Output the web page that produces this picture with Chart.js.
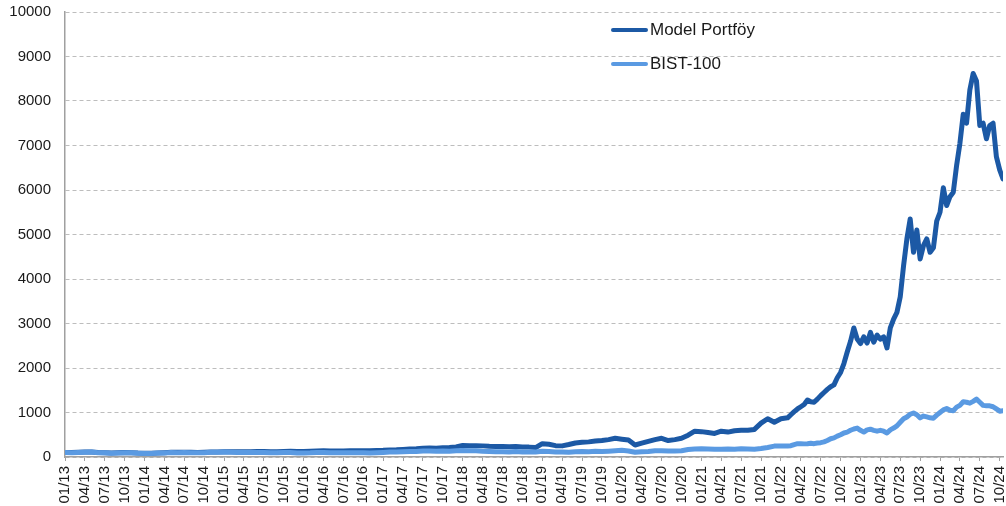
<!DOCTYPE html>
<html>
<head>
<meta charset="utf-8">
<script src="https://cdn.jsdelivr.net/npm/chart.js@4/dist/chart.umd.min.js"></script>
<style>
  body { margin: 0; background: #fff; }
  #wrap { position: relative; width: 1006px; height: 506px; }
  #legend { position: absolute; left: 611px; top: 18px; font-family: "Liberation Sans", Arial, sans-serif; font-size: 17px; color: #1a1a1a; }
  .item { display: flex; align-items: center; height: 24px; margin-bottom: 10px; }
  .swatch { width: 37px; height: 4px; border-radius: 2px; margin-right: 2px; }
</style>
</head>
<body>
<div id="wrap">
  <canvas id="chart" width="1006" height="506"></canvas>
  <div id="legend"></div>
</div>
<script>
// months since 01/2013 (monthly to 12/2021, half-monthly after)
const monthIdx = [];
for (let m = 0; m < 108; m++) monthIdx.push(m);
for (let m = 108; m <= 141.5; m += 0.5) monthIdx.push(m);

const modelPortfoy = [
  // 2013
  100, 100, 104, 110, 112, 100, 98, 90, 96, 100, 98, 90,
  // 2014
  86, 86, 92, 98, 104, 104, 106, 104, 102, 106, 112, 114,
  // 2015
  120, 118, 116, 120, 120, 122, 124, 118, 118, 126, 128, 122,
  // 2016
  124, 128, 134, 138, 134, 136, 134, 138, 140, 142, 138, 145,
  // 2017
  150, 160, 162, 170, 180, 186, 196, 200, 196, 206, 212, 225,
  // 2018
  260, 255, 255, 250, 240, 235, 238, 228, 235, 225, 222, 212,
  // 2019
  300, 285, 255, 250, 280, 315, 330, 340, 360, 370, 390, 420,
  // 2020
  400, 380, 270, 310, 350, 390, 420, 370, 390, 420, 490, 580,
  // 2021
  570, 550, 530, 580, 560, 590, 600, 600, 620, 760, 860, 780,
  // 2022 (half-monthly)
  860, 870, 880, 950, 1020, 1080, 1130, 1180, 1280, 1240, 1230, 1300,
  1380, 1450, 1520, 1580, 1620, 1780, 1900, 2100, 2360, 2600, 2900, 2650,
  // 2023
  2550, 2700, 2560, 2800, 2580, 2740, 2650, 2700, 2450, 2900, 3100, 3250,
  3600, 4300, 4900, 5350, 4600, 5100, 4450, 4750, 4900, 4600, 4700, 5300,
  // 2024
  5500, 6050, 5650, 5850, 5950, 6550, 7050, 7700, 7500, 8250, 8620, 8450,
  7450, 7500, 7150, 7450, 7500, 6750, 6450, 6250
];

const bist100 = [
  // 2013
  100, 98, 102, 108, 110, 96, 94, 85, 92, 95, 93, 85,
  // 2014
  80, 80, 88, 92, 99, 98, 100, 97, 93, 98, 105, 105,
  // 2015
  110, 104, 100, 103, 101, 101, 101, 93, 93, 101, 100, 90,
  // 2016
  90, 93, 100, 102, 95, 95, 93, 95, 95, 96, 92, 98,
  // 2017
  103, 110, 110, 116, 122, 124, 133, 135, 127, 135, 131, 138,
  // 2018
  145, 140, 138, 128, 122, 117, 117, 113, 121, 111, 115, 111,
  // 2019
  127, 125, 113, 113, 109, 116, 125, 120, 127, 123, 130, 140,
  // 2020
  150, 135, 108, 120, 125, 142, 143, 133, 137, 142, 168, 182,
  // 2021
  185, 180, 172, 175, 180, 172, 185, 182, 175, 190, 215, 245,
  // 2022 (half-monthly)
  250, 245, 247, 255, 280, 300, 300, 295, 300, 310, 300, 315,
  322, 340, 370, 410, 430, 470, 500, 540, 560, 600, 630, 650,
  // 2023
  600, 560, 610, 625, 600, 580, 600, 580, 540, 610, 650, 700,
  780, 860, 900, 960, 990, 950, 880, 920, 900, 880, 870, 940,
  // 2024
  1000, 1060, 1090, 1050, 1040, 1120, 1160, 1240, 1230, 1210, 1250, 1300,
  1230, 1160, 1150, 1150, 1130, 1080, 1030, 1040
];

const seriesNames = ['Model Portföy', 'BIST-100'];
const seriesColors = ['#1c59a5', '#5a9ae2'];
const yTicks = { min: 0, max: 10000, step: 1000 };

const gridGray = '#bdbdbd';
const axisGray = '#a0a0a0';
const textColor = '#1a1a1a';

function toPoints(vals) {
  return vals.map((v, i) => ({ x: monthIdx[i], y: v }));
}

const data = {
  datasets: [modelPortfoy, bist100].map((vals, i) => ({
    label: seriesNames[i],
    data: toPoints(vals),
    borderColor: seriesColors[i],
    backgroundColor: seriesColors[i],
    borderWidth: 5,
    pointRadius: 0,
    tension: 0,
    borderJoinStyle: 'round',
    borderCapStyle: 'round',
    fill: false
  })).reverse()
};

const config = {
  type: 'line',
  data: data,
  options: {
    responsive: false,
    animation: false,
    layout: { padding: { top: 12, right: 3, left: 0, bottom: 0 } },
    plugins: {
      legend: { display: false },
      tooltip: { enabled: false }
    },
    scales: {
      x: {
        type: 'linear',
        min: 0,
        max: 141.5,
        grid: { drawOnChartArea: false, drawTicks: true, tickLength: 4, tickColor: axisGray },
        border: { color: axisGray, width: 1.5 },
        ticks: {
          stepSize: 3,
          autoSkip: false,
          includeBounds: false,
          minRotation: 90,
          maxRotation: 90,
          padding: 5,
          color: textColor,
          font: { family: '"Liberation Sans", Arial, sans-serif', size: 15 },
          callback: (v) => {
            if (v % 3 !== 0) return null;
            const mm = String(v % 12 + 1).padStart(2, '0');
            const yy = String(13 + Math.floor(v / 12));
            return mm + '/' + yy;
          }
        },
        afterFit: (scale) => {
          scale.height = 49;
          scale.paddingLeft = 0;
          scale.paddingRight = 0;
        }
      },
      y: {
        min: yTicks.min,
        max: yTicks.max,
        grid: { color: gridGray, drawTicks: false, lineWidth: 1 },
        border: { color: axisGray, width: 1.5, dash: [4, 3] },
        ticks: {
          stepSize: yTicks.step,
          padding: 14,
          color: textColor,
          font: { family: '"Liberation Sans", Arial, sans-serif', size: 15 },
          callback: (v) => String(v)
        },
        afterFit: (scale) => {
          scale.width = 65;
          scale.paddingTop = 0;
          scale.paddingBottom = 0;
        }
      }
    }
  }
};

new Chart(document.getElementById('chart').getContext('2d'), config);

// HTML legend
const legend = document.getElementById('legend');
seriesNames.forEach((name, i) => {
  const item = document.createElement('div');
  item.className = 'item';
  item.innerHTML = `<span class="swatch" style="background:${seriesColors[i]}"></span><span>${name}</span>`;
  legend.appendChild(item);
});
</script>
</body>
</html>
